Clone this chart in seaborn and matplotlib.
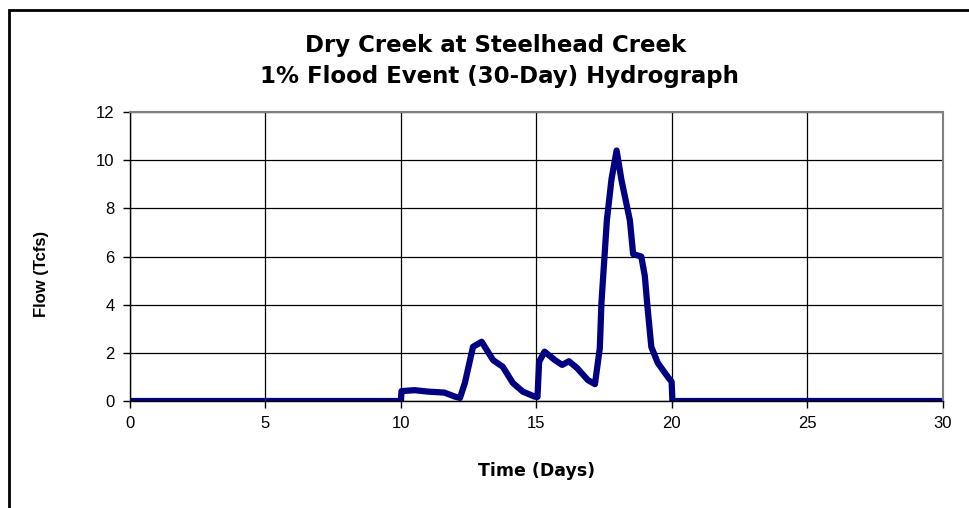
import pandas as pd
import seaborn as sns
import matplotlib.pyplot as plt
from matplotlib.patches import Rectangle

# hydrograph values (days, thousand cfs)
time_days = [0, 10.0, 10.02, 10.5, 11.0, 11.6, 12.0, 12.18, 12.36, 12.55, 12.66, 12.98,
             13.4, 13.76, 14.13, 14.5, 14.94, 15.04, 15.1, 15.3, 15.68, 15.95, 16.2,
             16.5, 16.9, 17.16, 17.34, 17.4, 17.6, 17.77, 17.96, 18.14, 18.45, 18.57,
             18.87, 19.0, 19.1, 19.24, 19.48, 19.85, 19.99, 20.02, 30]
flow_tcfs = [0, 0, 0.41, 0.45, 0.39, 0.35, 0.18, 0.13, 0.75, 1.7, 2.25, 2.46,
             1.7, 1.42, 0.75, 0.39, 0.18, 0.17, 1.63, 2.05, 1.7, 1.5, 1.65,
             1.37, 0.87, 0.7, 2.2, 4.07, 7.5, 9.2, 10.4, 9.17, 7.5, 6.1,
             6.0, 5.2, 3.9, 2.25, 1.58, 1.0, 0.8, 0, 0]

x_ticks = [0, 5, 10, 15, 20, 25, 30]
y_ticks = [0, 2, 4, 6, 8, 10, 12]

df = pd.DataFrame({'Time': time_days, 'Flow': flow_tcfs})

sns.set_style('white')
plt.rcParams['font.family'] = ['Liberation Sans', 'DejaVu Sans']
plt.rcParams['text.color'] = 'black'
plt.rcParams['axes.labelcolor'] = 'black'
plt.rcParams['xtick.color'] = 'black'
plt.rcParams['ytick.color'] = 'black'

fig = plt.figure(figsize=(9.7, 5.08), dpi=100)
ax = fig.add_axes([0.134, 0.2106, 0.838, 0.5689])

sns.lineplot(data=df, x='Time', y='Flow', ax=ax, color='#000080', linewidth=4.5,
             estimator=None, sort=False, solid_joinstyle='round')

ax.set_xlim(0, 30)
ax.set_ylim(0, 12)
ax.set_xticks(x_ticks)
ax.set_yticks(y_ticks)
ax.grid(True, color='black', linewidth=0.9)
ax.set_axisbelow(True)
ax.tick_params(axis='both', direction='out', length=5, width=1, color='black',
               labelsize=12, pad=6, left=True, bottom=True)

for side in ['top', 'right']:
    ax.spines[side].set_color('#808080')
    ax.spines[side].set_linewidth(1.5)
for side in ['left', 'bottom']:
    ax.spines[side].set_color('black')
    ax.spines[side].set_linewidth(1)

ax.set_xlabel('Time (Days)', fontsize=12.5, fontweight='bold', labelpad=22,
              family='DejaVu Sans')
ax.set_ylabel('Flow (Tcfs)', fontsize=12, fontweight='bold')
ax.yaxis.set_label_coords(-0.1, 0.44)

fig.text(0.511, 0.911, 'Dry Creek at Steelhead Creek', ha='center', va='center',
         fontsize=16.5, fontweight='bold', family='DejaVu Sans')
fig.text(0.515, 0.85, '1% Flood Event (30-Day) Hydrograph', ha='center', va='center',
         fontsize=16.5, fontweight='bold', family='DejaVu Sans')

# outer chart border, runs off the right and bottom edges
fig.patches.append(Rectangle((9 / 970, -0.2), 1.2, 1.18, transform=fig.transFigure,
                             fill=False, edgecolor='black', linewidth=2, clip_on=False))

fig.savefig('out.png', dpi=100)
